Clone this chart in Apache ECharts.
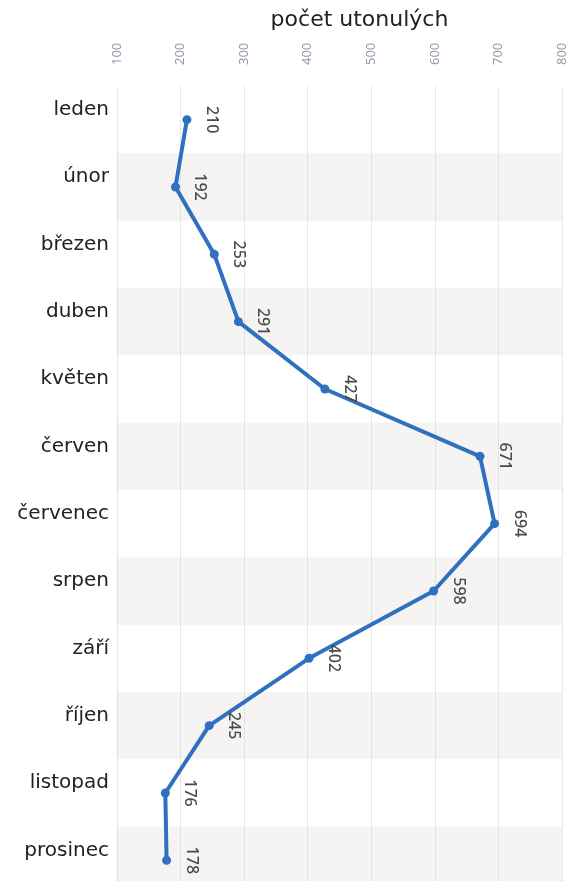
<!DOCTYPE html>
<html>
<head>
<meta charset="utf-8">
<script src="https://cdn.jsdelivr.net/npm/echarts@6/dist/echarts.min.js"></script>
<style>
  html, body { margin: 0; padding: 0; background: #fff; }
  #main { width: 577px; height: 881px; }
</style>
</head>
<body>
<div id="main"></div>
<script>
// mesice a pocty utonulych
const months = ['leden', 'únor', 'březen', 'duben', 'květen', 'červen', 'červenec', 'srpen', 'září', 'říjen', 'listopad', 'prosinec'];
const drowned = [210, 192, 253, 291, 427, 671, 694, 598, 402, 245, 176, 178];
const valueTicks = [100, 800, 100]; // min, max, interval

const chart = echarts.init(document.getElementById('main'));

chart.setOption({
  animation: false,
  grid: {
    left: 117,
    right: 15,
    top: 86,
    bottom: -13,
    outerBoundsMode: 'none'
  },
  xAxis: {
    type: 'value',
    position: 'top',
    min: valueTicks[0],
    max: valueTicks[1],
    interval: valueTicks[2],
    name: 'počet utonulých',
    nameLocation: 'middle',
    nameGap: 55,
    nameTextStyle: {
      color: '#222',
      fontSize: 22,
      fontFamily: 'DejaVu Sans',
      padding: [0, 0, 0, 40]
    },
    axisLine: { show: false },
    axisTick: { show: false },
    axisLabel: {
      rotate: -90,
      margin: 21,
      color: '#8f9aa8',
      fontSize: 13,
      fontFamily: 'Noto Sans'
    },
    splitLine: {
      show: true,
      lineStyle: { color: '#cfcfcf', type: 'dotted', width: 1 }
    }
  },
  yAxis: {
    type: 'category',
    inverse: true,
    data: months,
    axisLine: { show: false },
    axisTick: { show: false },
    axisLabel: {
      margin: 8,
      color: '#222',
      fontSize: 20,
      fontFamily: 'DejaVu Sans',
      verticalAlign: 'bottom',
      lineHeight: 20
    },
    splitLine: { show: false },
    splitArea: {
      show: true,
      areaStyle: { color: ['rgba(255,255,255,0)', '#f5f4f3'] }
    }
  },
  series: [
    {
      type: 'line',
      data: drowned,
      symbol: 'circle',
      symbolSize: 9,
      lineStyle: { color: '#2f70bf', width: 4 },
      itemStyle: { color: '#2f70bf' },
      label: {
        show: true,
        position: 'right',
        distance: 12,
        rotate: -90,
        align: 'center',
        verticalAlign: 'bottom',
        color: '#4a4a4a',
        fontSize: 16,
        fontWeight: 500,
        fontFamily: 'Noto Sans'
      }
    }
  ]
});
</script>
</body>
</html>
